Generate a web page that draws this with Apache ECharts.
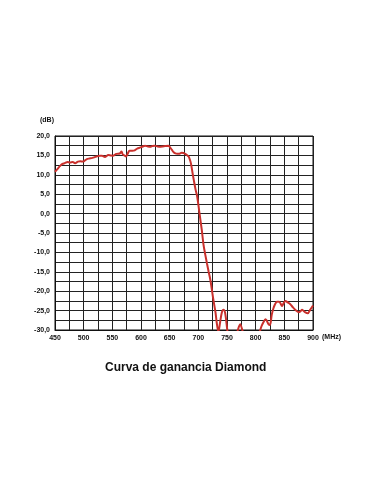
<!DOCTYPE html>
<html>
<head>
<meta charset="utf-8">
<script src="https://cdn.jsdelivr.net/npm/echarts@6/dist/echarts.min.js"></script>
<style>
html,body{margin:0;padding:0;background:#fff;}
#c{width:381px;height:492px;}
</style>
</head>
<body>
<div id="c"></div>
<script>
var freqMHz = [450,455,459,463,467,472,476,481,485,490,494,499,505,510,514,518,522,528,532,537,543,547,551,557,563,566,568,571,574,577,580,585,589,594,598,603,607,612,616,620,624,629,633,638,642,648,651,654,657,660,663,666,671,674,677,680,683,685,687,690,692,695,698,702,706,709,712,715,718,721,723,726,730,732,735,738,741,744,747,751,755,760,765,769,773,777,782,790,798,806,810,814,817,819,822,825,828,831,834,837,841,846,849,852,856,860,864,869,875,878,881,886,891,895,900];
var gainDB = [10.8,11.6,12.3,12.8,13.0,13.3,13.2,13.3,13.0,13.4,13.5,13.4,14.0,14.2,14.3,14.5,14.7,14.9,14.9,14.6,15.1,15.0,14.9,15.4,15.5,16.0,15.3,15.0,14.7,15.5,16.2,16.2,16.3,16.8,17.0,17.3,17.5,17.3,17.2,17.4,17.5,17.3,17.2,17.3,17.4,17.5,17.0,16.4,15.8,15.5,15.4,15.4,15.7,15.6,15.4,15.1,14.7,14.0,13.0,10.4,8.7,6.3,4.4,0.1,-4.2,-8.0,-10.5,-12.8,-15.0,-17.1,-19.0,-22.0,-25.5,-28.0,-30.5,-28.0,-25.5,-24.8,-25.8,-30.5,-33,-34,-33,-30,-28.5,-30.2,-33,-35,-34,-31,-29.1,-27.9,-27.2,-27.5,-28.4,-28.7,-26.1,-24.4,-23.3,-22.7,-22.7,-23.8,-23.0,-22.5,-22.9,-23.3,-24.0,-24.8,-25.4,-25.2,-24.8,-25.4,-25.7,-24.8,-23.7];
var xMin = 450, xMax = 900, xStep = 25, xLabelStep = 50;
var yMin = -30, yMax = 20, yStep = 2.5, yLabelStep = 5;
var titleText = 'Curva de ganancia Diamond';
var yUnit = '(dB)', xUnit = '(MHz)';

var pts = freqMHz.map(function(f,i){return [f, gainDB[i]];});
var lblFont = {fontFamily:'Liberation Sans, Arial, sans-serif', fontWeight:'bold', fontSize:7, color:'#111'};
var chart = echarts.init(document.getElementById('c'), null, {renderer:'canvas'});
chart.setOption({
  backgroundColor:'#fff',
  animation:false,
  title:{text:titleText, left:100, top:357, textStyle:{fontFamily:'Liberation Sans, Arial, sans-serif', fontWeight:'bold', fontSize:12, color:'#111'}},
  grid:{left:55, top:136, width:258, height:194, show:true, borderColor:'#111', borderWidth:1},
  graphic:[
    {type:'text', left:322, top:334, style:{text:xUnit, font:'bold 7px "Liberation Sans", Arial, sans-serif', fill:'#111'}},
    {type:'text', left:40, top:117, style:{text:yUnit, font:'bold 7px "Liberation Sans", Arial, sans-serif', fill:'#111'}}
  ],
  xAxis:{type:'value', min:xMin, max:xMax, interval:xStep,
    axisLine:{show:true, onZero:false, lineStyle:{color:'#111', width:1}}, axisTick:{show:false},
    axisLabel:Object.assign({margin:5, formatter:function(v){return (v % xLabelStep === 0) ? String(v) : '';}}, lblFont),
    splitLine:{show:true, lineStyle:{color:'#222', width:1}}},
  yAxis:{type:'value', min:yMin, max:yMax, interval:yStep,
    axisLine:{show:true, onZero:false, lineStyle:{color:'#111', width:1}}, axisTick:{show:false},
    axisLabel:Object.assign({margin:5, formatter:function(v){return (Math.abs(v % yLabelStep) < 1e-9) ? v.toFixed(1).replace('.',',') : '';}}, lblFont),
    splitLine:{show:true, lineStyle:{color:'#222', width:1}}},
  series:[{type:'line', data:pts, smooth:0.3, showSymbol:false, clip:true,
    lineStyle:{color:'#c9302c', width:2}}]
});
</script>
</body>
</html>
